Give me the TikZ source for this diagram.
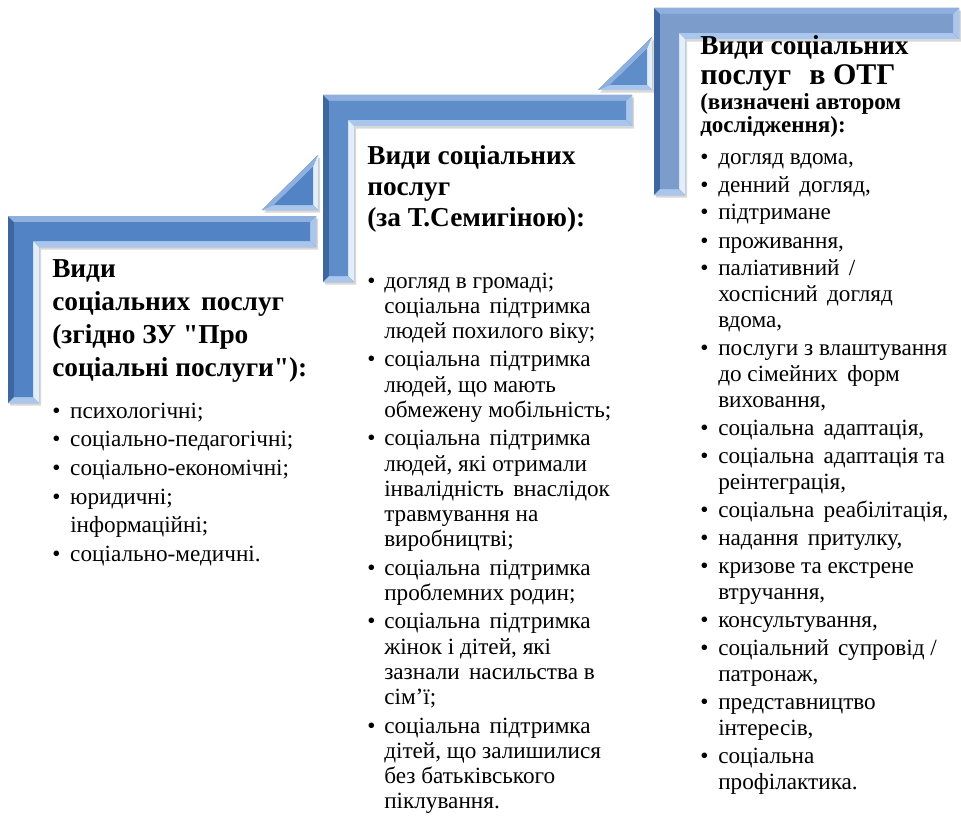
\documentclass[tikz,border=0pt]{standalone}
\usepackage{fontspec}
\setmainfont{Liberation Serif}[Ligatures=TeXOff]
\usetikzlibrary{shadows}

\definecolor{faceone}{HTML}{5284C5}
\definecolor{facetwo}{HTML}{5F8DC9}
\definecolor{facethree}{HTML}{7C9DCB}
\definecolor{bevDark}{HTML}{3E679F}
\definecolor{bevLight}{HTML}{A9C6EC}
\definecolor{bevWhite}{HTML}{E2EEFB}
\definecolor{topLight}{HTML}{8FB0DE}

\newcommand{\stepshape}[5]{%
\fill[bevDark, drop shadow={opacity=.3,shadow xshift=1.5pt,shadow yshift=-2pt}]
  (#1,#2) -- (#3,#2) -- (#3,#2+31) -- (#1+31,#2+31) -- (#1+31,#4) -- (#1,#4) -- cycle;
\fill[topLight] (#1,#2) -- (#3,#2) -- (#3-6,#2+6) -- (#1+6,#2+6) -- cycle;
\fill[bevLight] (#3,#2) -- (#3,#2+31) -- (#3-6,#2+25) -- (#3-6,#2+6) -- cycle;
\fill[bevLight] (#3,#2+31) -- (#1+31,#2+31) -- (#1+25,#2+25) -- (#3-6,#2+25) -- cycle;
\fill[bevWhite] (#1+31,#2+31) -- (#1+31,#4) -- (#1+25,#4-6) -- (#1+25,#2+25) -- cycle;
\fill[bevLight] (#1+31,#4) -- (#1,#4) -- (#1+6,#4-6) -- (#1+25,#4-6) -- cycle;
\fill[#5] (#1+6,#2+6) -- (#3-6,#2+6) -- (#3-6,#2+25) -- (#1+25,#2+25) -- (#1+25,#4-6) -- (#1+6,#4-6) -- cycle;
}
\newcommand{\tristep}[5]{% px py qx ry face
\fill[bevDark, drop shadow={opacity=.3,shadow xshift=1.5pt,shadow yshift=-2pt}]
  (#1,#2) -- (#3,#2) -- (#3,#4) -- cycle;
\fill[topLight] (#3,#4) -- (#1,#2) -- (#1+12,#2-5) -- (#3-5,#4+12) -- cycle;
\fill[bevWhite] (#3,#2) -- (#3,#4) -- (#3-5,#4+12) -- (#3-5,#2-5) -- cycle;
\fill[bevLight] (#1,#2) -- (#3,#2) -- (#3-5,#2-5) -- (#1+12,#2-5) -- cycle;
\fill[#5] (#1+12,#2-5) -- (#3-5,#2-5) -- (#3-5,#4+12) -- cycle;
}
\newcommand{\bul}{\makebox[13.5pt][l]{•}}
\newcommand{\cnt}{\hspace*{13.5pt}}
\newcommand{\bulb}{\makebox[12.75pt][l]{•}}
\newcommand{\cntb}{\hspace*{12.75pt}}
\newcommand{\xs}{\hspace{0.4em}}

\tikzset{
  txt/.style={anchor=base west, inner sep=0pt, align=left},
  headA/.style={txt, font=\fontsize{20.5pt}{24.75pt}\selectfont\bfseries},
  headB/.style={txt, font=\fontsize{20.5pt}{23.25pt}\selectfont\bfseries},
  headC/.style={txt, font=\fontsize{20.5pt}{22.5pt}\selectfont\bfseries},
  headE/.style={txt, font=\fontsize{22.5pt}{24pt}\selectfont\bfseries},
  headD/.style={txt, font=\fontsize{17.3pt}{17.6pt}\selectfont\bfseries},
  listA/.style={txt, font=\fontsize{17.4pt}{21.5pt}\selectfont},
  listB/.style={txt, font=\fontsize{17.4pt}{18.9pt}\selectfont},
  listC/.style={txt, font=\fontsize{17.4pt}{19.5pt}\selectfont},
}

\begin{document}
\begin{tikzpicture}[x=0.75pt,y=-0.75pt]
\useasboundingbox[fill=white] (0,0) rectangle (961,817);

% steps
\stepshape{654}{8}{959}{195}{facethree}
\stepshape{323}{95}{632}{282}{facetwo}
\stepshape{8}{216}{316}{403}{faceone}
\tristep{598}{90}{652}{37}{facetwo}
\tristep{262}{210}{318}{155}{faceone}

% column 1
\node[headA] (h1) at (52,277) {\begin{tabular}[t]{@{}l@{}}Види\\соціальних\xs послуг\\(згідно ЗУ "Про\\соціальні послуги"):\end{tabular}};
\node[listA] (l1) at (52,418) {\begin{tabular}[t]{@{}l@{}}
\bul психологічні;\\
\bul соціально-педагогічні;\\
\bul соціально-економічні;\\
\bul юридичні;\\
\cnt інформаційні;\\
\bul соціально-медичні.
\end{tabular}};

% column 2
\node[headB] (h2) at (367,165) {\begin{tabular}[t]{@{}l@{}}Види соціальних\\послуг\\(за Т.Семигіною):\end{tabular}};
\node[listB] (l2) at (367,288) {\begin{tabular}[t]{@{}l@{}}
\bulb догляд в громаді;\\
\cntb соціальна\xs підтримка\\
\cntb людей похилого віку;\\[2.5pt]
\bulb соціальна\xs підтримка\\
\cntb людей, що мають\\
\cntb обмежену мобільність;\\[2.5pt]
\bulb соціальна\xs підтримка\\
\cntb людей, які отримали\\
\cntb інвалідність\xs внаслідок\\
\cntb травмування на\\
\cntb виробництві;\\[2.5pt]
\bulb соціальна\xs підтримка\\
\cntb проблемних родин;\\[2.5pt]
\bulb соціальна\xs підтримка\\
\cntb жінок і дітей, які\\
\cntb зазнали\xs насильства в\\
\cntb сім’ї;\\[2.5pt]
\bulb соціальна\xs підтримка\\
\cntb дітей, що залишилися\\
\cntb без батьківського\\
\cntb піклування.
\end{tabular}};

% column 3
\node[headC] (h3) at (700,55) {Види соціальних};
\node[headE] (h3a) at (700,85) {послуг\hspace{0.35em} в ОТГ};
\node[headD] (h3b) at (700,109.5) {\begin{tabular}[t]{@{}l@{}}(визначені автором\\дослідження):\end{tabular}};
\node[listC] (l3) at (700,164) {\begin{tabular}[t]{@{}l@{}}
\bul догляд вдома,\\[1.5pt]
\bul денний\xs догляд,\\[1.5pt]
\bul підтримане\\[1.5pt]
\bul проживання,\\[1.5pt]
\bul паліативний\xs /\\
\cnt хоспісний\xs догляд\\
\cnt вдома,\\[1.5pt]
\bul послуги з влаштування\\
\cnt до сімейних\xs форм\\
\cnt виховання,\\[1.5pt]
\bul соціальна\xs адаптація,\\[1.5pt]
\bul соціальна\xs адаптація та\\
\cnt реінтеграція,\\[1.5pt]
\bul соціальна\xs реабілітація,\\[1.5pt]
\bul надання\xs притулку,\\[1.5pt]
\bul кризове та екстрене\\
\cnt втручання,\\[1.5pt]
\bul консультування,\\[1.5pt]
\bul соціальний\xs супровід /\\
\cnt патронаж,\\[1.5pt]
\bul представництво\\
\cnt інтересів,\\[1.5pt]
\bul соціальна\\
\cnt профілактика.
\end{tabular}};
\end{tikzpicture}
\end{document}
